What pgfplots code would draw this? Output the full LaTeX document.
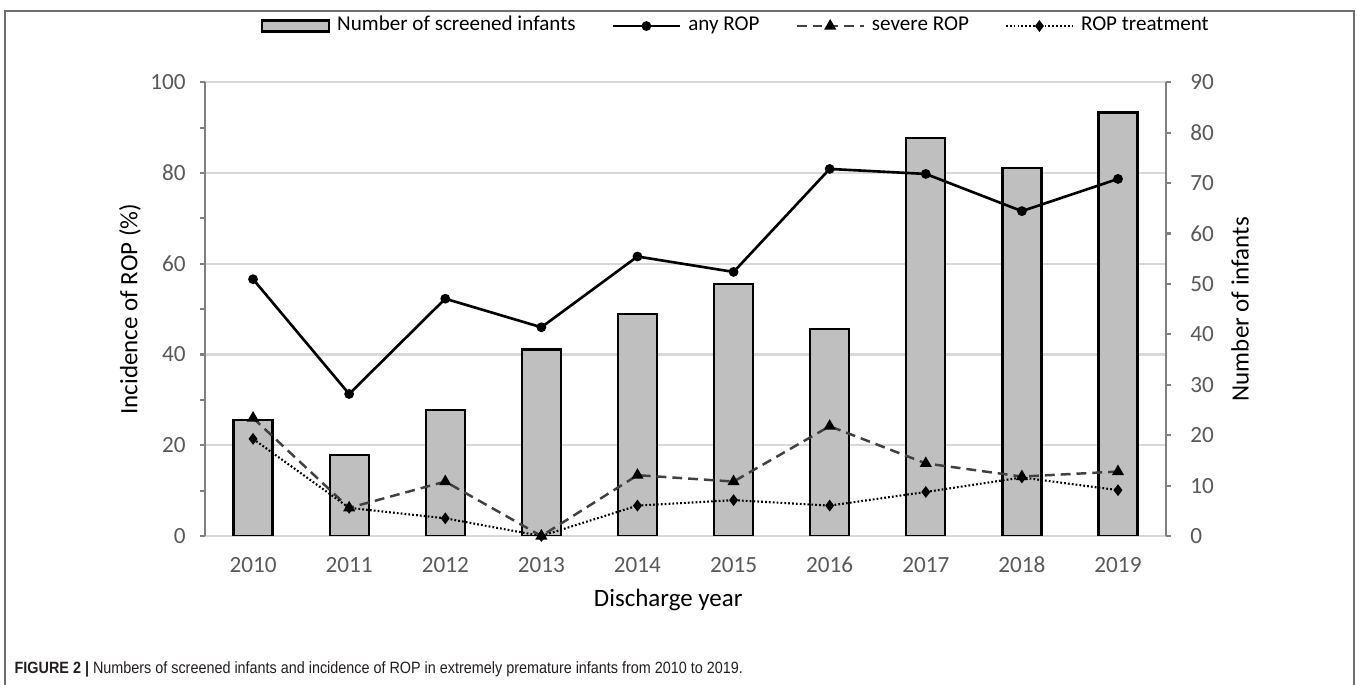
\documentclass[border=0pt]{standalone}
\usepackage{pgfplots}
\pgfplotsset{compat=1.18}
\usepackage{fontspec}
\setmainfont{Carlito}
\newfontfamily\capfont[FakeStretch=0.88]{Liberation Sans}
\definecolor{barfill}{HTML}{BFBFBF}
\definecolor{gridc}{HTML}{D9D9D9}
\definecolor{axisc}{HTML}{808080}
\definecolor{tickc}{HTML}{595959}
\definecolor{dashc}{HTML}{404040}
\definecolor{framec}{HTML}{6E6E6E}
\begin{document}
\begin{tikzpicture}
\useasboundingbox (0,0) rectangle (13.57,6.85);
\fill[white] (0,0) rectangle (13.57,6.85);
\draw[color=framec, line width=0.45pt] (0.05,-0.2) -- (0.05,6.74) -- (13.54,6.74) -- (13.54,-0.2);
% Axis A: left axis, grid, x labels
\begin{axis}[at={(2.05cm,1.49cm)}, anchor=south west, scale only axis,
  width=9.61cm, height=4.537cm,
  xmin=-0.5, xmax=9.5, ymin=0, ymax=100,
  axis y line*=left, axis x line*=bottom,
  /pgf/number format/assume math mode=true,
  xtick={0,...,9}, xticklabels={2010,2011,2012,2013,2014,2015,2016,2017,2018,2019},
  ytick={0,20,...,100}, minor ytick={10,30,...,90},
  ymajorgrids, major grid style={color=gridc, line width=0.6pt},
  y axis line style={color=axisc, line width=0.6pt, -},
  x axis line style={color=gridc, line width=0.6pt, -},
  tick align=outside, major tick length=0.05cm, minor tick length=0.05cm,
  ytick style={color=axisc, line width=0.6pt},
  xtick style={draw=none},
  tick label style={font=\fontsize{6.6}{7}\selectfont, text=tickc},
  xticklabel style={text height=4.6pt, text depth=0pt, yshift=-0.03cm},
  yticklabel style={xshift=-0.02cm},
  xlabel={Discharge year}, ylabel={Incidence of ROP (\%)},
  label style={font=\fontsize{7.1}{8}\selectfont, text=black},
  xlabel style={at={(axis description cs:0.482,-0.141)}, anchor=center},
  ylabel style={at={(axis description cs:-0.078,0.5)}, anchor=center},
]
\end{axis}
% Axis B: right axis, bars
\begin{axis}[at={(2.05cm,1.49cm)}, anchor=south west, scale only axis,
  width=9.61cm, height=4.537cm,
  xmin=-0.5, xmax=9.5, ymin=0, ymax=90,
  axis y line*=right, axis x line=none,
  /pgf/number format/assume math mode=true,
  ytick={0,10,...,90},
  y axis line style={color=axisc, line width=0.6pt, -},
  tick align=outside, major tick length=0.05cm,
  ytick style={color=axisc, line width=0.6pt},
  tick label style={font=\fontsize{6.6}{7}\selectfont, text=tickc},
  yticklabel style={xshift=0.07cm},
  ylabel={Number of infants},
  label style={font=\fontsize{7.1}{8}\selectfont, text=black},
  ylabel style={at={(axis description cs:1.077,0.5)}, anchor=center},
]
\addplot[ybar, bar width=0.39cm, fill=barfill, draw=black, line width=0.65pt]
  coordinates {(0,23)(1,16)(2,25)(3,37)(4,44)(5,50)(6,41)(7,79)(8,73)(9,84)};
\end{axis}
% Axis C: lines + legend
\begin{axis}[at={(2.05cm,1.49cm)}, anchor=south west, scale only axis,
  width=9.61cm, height=4.537cm,
  xmin=-0.5, xmax=9.5, ymin=0, ymax=100,
  hide axis, clip=false,
  legend image code/.code={\draw[mark repeat=2,mark phase=2] plot coordinates {(0cm,0cm)(0.335cm,0cm)(0.67cm,0cm)};},
  legend style={at={(axis description cs:0.555,1.124)}, anchor=center, draw=none, fill=none,
    font=\fontsize{6}{7}\selectfont, legend columns=4,
    /tikz/every even column/.append style={column sep=0.29cm}},
]
\addlegendimage{legend image code/.code={\draw[fill=barfill, draw=black, line width=0.65pt] (0cm,-0.055cm) rectangle (0.67cm,0.055cm);}}
\addlegendentry{Number of screened infants}
\addplot[black, line width=0.75pt, mark=*, mark size=1pt]
  coordinates {(0,56.6)(1,31.3)(2,52.3)(3,46.0)(4,61.6)(5,58.2)(6,80.9)(7,79.8)(8,71.6)(9,78.7)};
\addlegendentry{any ROP}
\addplot[dashc, line width=0.7pt, dash pattern=on 2.8pt off 1.7pt, mark=triangle*, mark size=1.3pt, mark options={solid, fill=black, draw=black}]
  coordinates {(0,26.0)(1,6.2)(2,12.0)(3,0)(4,13.4)(5,12.0)(6,24.2)(7,16.0)(8,13.1)(9,14.2)};
\addlegendentry{severe ROP}
\addplot[black, line width=0.6pt, dash pattern=on 0.5pt off 0.6pt, mark=diamond*, mark size=1.2pt, mark options={solid}]
  coordinates {(0,21.4)(1,6.2)(2,3.9)(3,0)(4,6.7)(5,7.9)(6,6.7)(7,9.7)(8,12.9)(9,10.1)};
\addlegendentry{ROP treatment}
\end{axis}
\node[anchor=base west, inner sep=0pt] at (0.14,0.11) {\capfont\fontsize{4.65}{5}\selectfont\color[HTML]{231F20}\textbf{FIGURE 2 \textbar} Numbers of screened infants and incidence of ROP in extremely premature infants from 2010 to 2019.};
\end{tikzpicture}
\end{document}
